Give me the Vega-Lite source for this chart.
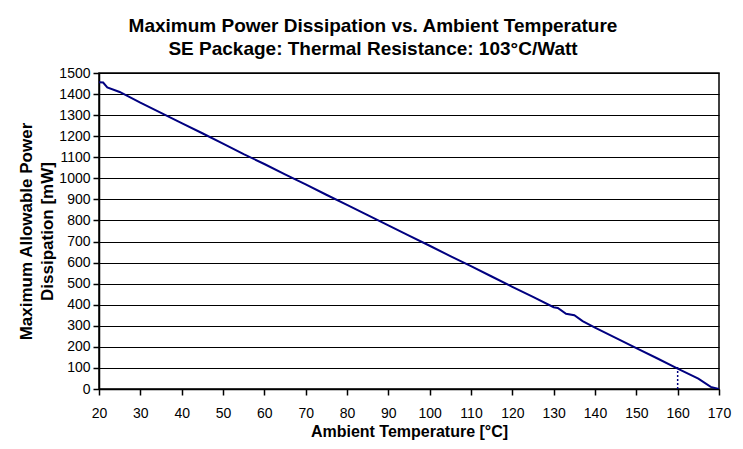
{
  "$schema": "https://vega.github.io/schema/vega-lite/v6.json",
  "width": 620,
  "height": 316,
  "autosize": {"type": "none"},
  "padding": {"left": 99, "top": 73, "right": 24, "bottom": 60},
  "background": "white",
  "config": {
    "font": "Liberation Sans",
    "view": {"stroke": "black", "strokeWidth": 1.5},
    "axis": {
      "domainColor": "black",
      "tickColor": "black",
      "labelColor": "black",
      "titleColor": "black",
      "labelFont": "Liberation Sans",
      "titleFont": "Liberation Sans",
      "labelFontSize": 14,
      "titleFontWeight": "bold",
      "tickSize": 6,
      "domainWidth": 1.5,
      "tickWidth": 1.5,
      "labelOverlap": false,
      "format": "d"
    }
  },
  "title": {
    "text": ["Maximum Power Dissipation vs. Ambient Temperature", "SE Package: Thermal Resistance: 103°C/Watt"],
    "font": "Liberation Sans",
    "fontSize": 19,
    "fontWeight": "bold",
    "color": "black",
    "anchor": "middle",
    "lineHeight": 23,
    "offset": 7,
    "dx": -36
  },
  "datasets": {
    "curve": [
      {"t": 20, "p": 1456}, {"t": 21, "p": 1455}, {"t": 22, "p": 1432}, {"t": 25, "p": 1410},
      {"t": 30, "p": 1359}, {"t": 35, "p": 1311}, {"t": 40, "p": 1262}, {"t": 45, "p": 1214},
      {"t": 50, "p": 1165}, {"t": 55, "p": 1115}, {"t": 60, "p": 1068}, {"t": 65, "p": 1019},
      {"t": 70, "p": 971}, {"t": 75, "p": 922}, {"t": 80, "p": 874}, {"t": 85, "p": 825},
      {"t": 90, "p": 777}, {"t": 95, "p": 728}, {"t": 100, "p": 680}, {"t": 105, "p": 631},
      {"t": 110, "p": 583}, {"t": 115, "p": 534}, {"t": 120, "p": 485}, {"t": 125, "p": 437},
      {"t": 130, "p": 388}, {"t": 131, "p": 385}, {"t": 133, "p": 357}, {"t": 135, "p": 350},
      {"t": 137, "p": 322}, {"t": 140, "p": 291}, {"t": 145, "p": 243}, {"t": 150, "p": 194},
      {"t": 155, "p": 146}, {"t": 160, "p": 97}, {"t": 165, "p": 49}, {"t": 168, "p": 10},
      {"t": 170, "p": 0}
    ],
    "marker": [{"t": 160, "p0": 0, "p1": 112}]
  },
  "layer": [
    {
      "data": {"name": "curve"},
      "mark": {"type": "line", "color": "#000080", "strokeWidth": 2, "clip": true},
      "encoding": {
        "x": {
          "field": "t", "type": "quantitative",
          "scale": {"domain": [20, 170], "nice": false},
          "axis": {"values": [20, 30, 40, 50, 60, 70, 80, 90, 100, 110, 120, 130, 140, 150, 160, 170],
                   "grid": false, "labelPadding": 11, "title": "Ambient Temperature [°C]", "titleFontSize": 16, "titlePadding": 3, "labelFlush": false}
        },
        "y": {
          "field": "p", "type": "quantitative",
          "scale": {"domain": [0, 1500], "nice": false},
          "axis": {"values": [0, 100, 200, 300, 400, 500, 600, 700, 800, 900, 1000, 1100, 1200, 1300, 1400, 1500],
                   "labelFlush": false,
                   "grid": true, "gridColor": "black", "gridWidth": 1, "gridOpacity": 1,
                   "labelPadding": 3, "title": ["Maximum Allowable Power", "Dissipation [mW]"], "titleFontSize": 17, "titlePadding": 2, "titleLineHeight": 21}
        }
      }
    },
    {
      "data": {"name": "marker"},
      "mark": {"type": "rule", "color": "#000080", "strokeWidth": 1.5, "strokeDash": [2, 2]},
      "encoding": {
        "x": {
          "field": "t", "type": "quantitative",
          "scale": {"domain": [20, 170], "nice": false},
          "axis": {"values": [20, 30, 40, 50, 60, 70, 80, 90, 100, 110, 120, 130, 140, 150, 160, 170],
                   "grid": false, "labelPadding": 11, "title": "Ambient Temperature [°C]", "titleFontSize": 16, "titlePadding": 3, "labelFlush": false}
        },
        "y": {
          "field": "p0", "type": "quantitative",
          "scale": {"domain": [0, 1500], "nice": false},
          "axis": {"values": [0, 100, 200, 300, 400, 500, 600, 700, 800, 900, 1000, 1100, 1200, 1300, 1400, 1500],
                   "labelFlush": false,
                   "grid": true, "gridColor": "black", "gridWidth": 1, "gridOpacity": 1,
                   "labelPadding": 3, "title": ["Maximum Allowable Power", "Dissipation [mW]"], "titleFontSize": 17, "titlePadding": 2, "titleLineHeight": 21}
        },
        "y2": {"field": "p1"}
      }
    }
  ]
}
